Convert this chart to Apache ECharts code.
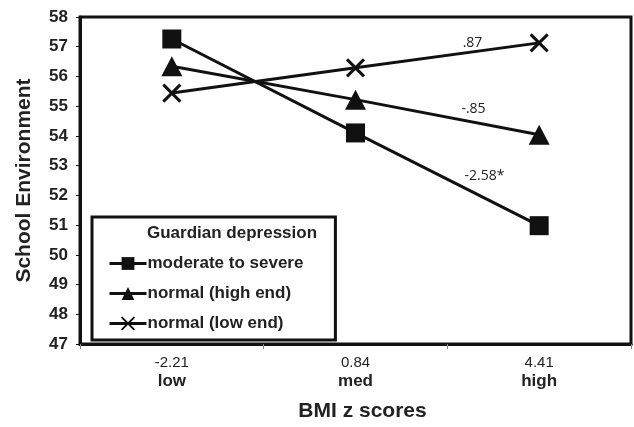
<!DOCTYPE html>
<html><head><meta charset="utf-8">
<script src="https://cdn.jsdelivr.net/npm/echarts@6/dist/echarts.min.js"></script>
<style>html,body{margin:0;padding:0;background:#fff}#c{width:634px;height:427px}</style>
</head><body><div id="c"></div>
<script>
var categories = ['low', 'med', 'high'];
var zScores = ['-2.21', '0.84', '4.41'];
var seriesNames = ['moderate to severe', 'normal (high end)', 'normal (low end)'];
var moderateSevere = [57.26, 54.10, 50.98];
var normalHigh = [56.34, 55.22, 54.04];
var normalLow = [55.44, 56.29, 57.13];
var slopeLabels = ['-2.58*', '-.85', '.87'];
var yTicks = [47, 48, 49, 50, 51, 52, 53, 54, 55, 56, 57, 58];

var INK = '#111';
var crossPath = 'path://M0,0L10,10M0,10L10,0';

function slopeMark(text, yVal, offset) {
  return {
    silent: true,
    symbol: 'circle', symbolSize: 0,
    itemStyle: {color: 'transparent'},
    data: [{
      coord: [1, yVal],
      label: {show: true, position: 'inside', formatter: text, offset: offset,
        color: '#222', fontSize: 14, fontFamily: 'Open Sans'}
    }]
  };
}

var chart = echarts.init(document.getElementById('c'));
chart.setOption({
  animation: false,
  backgroundColor: '#fff',
  grid: {left: 80, right: 3, top: 17, bottom: 81, show: true, borderColor: INK, borderWidth: 3, backgroundColor: 'transparent'},
  xAxis: {
    type: 'category', data: categories, boundaryGap: true,
    axisLine: {lineStyle: {color: INK, width: 3}},
    axisTick: {show: true, length: 5, lineStyle: {color: '#888', width: 1}},
    axisLabel: {
      margin: 10,
      formatter: function (v, i) { return '{num|' + zScores[i] + '}\n{cat|' + v + '}'; },
      rich: {
        num: {fontFamily: 'Liberation Sans', fontSize: 15, color: '#222', lineHeight: 18},
        cat: {fontFamily: 'Liberation Sans', fontSize: 17, fontWeight: 'bold', color: '#222', lineHeight: 19}
      }
    },
    name: 'BMI z scores', nameLocation: 'middle', nameGap: 57,
    nameTextStyle: {fontFamily: 'Liberation Sans', fontSize: 21, fontWeight: 'bold', color: '#222', padding: [0, 0, 0, 14]}
  },
  yAxis: {
    type: 'value', min: yTicks[0], max: yTicks[yTicks.length - 1], interval: 1,
    axisLine: {show: true, lineStyle: {color: INK, width: 3}},
    axisTick: {show: true, length: 4, lineStyle: {color: INK, width: 1}},
    splitLine: {show: false},
    axisLabel: {margin: 12, fontFamily: 'Liberation Sans', fontSize: 17, fontWeight: 'bold', color: '#222'},
    name: 'School Environment', nameLocation: 'middle', nameGap: 45,
    nameTextStyle: {fontFamily: 'Liberation Sans', fontSize: 21, fontWeight: 'bold', color: '#222'}
  },
  legend: {
    orient: 'vertical', left: 92, top: 217,
    padding: [38, 32, 8, 16], itemGap: 13, itemWidth: 37, itemHeight: 16,
    backgroundColor: '#fff', borderColor: INK, borderWidth: 3, borderRadius: 0,
    lineStyle: {width: 3, color: INK},
    textStyle: {fontFamily: 'Liberation Sans', fontSize: 17, fontWeight: 'bold', color: '#222', padding: [0, 0, 0, -4]},
    data: seriesNames
  },
  graphic: [{
    type: 'text', left: 147, top: 225, z: 100,
    style: {text: 'Guardian depression', fontFamily: 'Liberation Sans', fontSize: 17, fontWeight: 'bold', fill: '#222'}
  }],
  series: [
    {
      name: seriesNames[0], type: 'line', data: moderateSevere,
      symbol: 'rect', symbolSize: 19,
      lineStyle: {color: INK, width: 3}, itemStyle: {color: INK},
      markPoint: slopeMark(slopeLabels[0], moderateSevere[1], [129, 43])
    },
    {
      name: seriesNames[1], type: 'line', data: normalHigh,
      symbol: 'triangle', symbolSize: [21, 20],
      lineStyle: {color: INK, width: 3}, itemStyle: {color: INK},
      markPoint: slopeMark(slopeLabels[1], normalHigh[1], [118, 9])
    },
    {
      name: seriesNames[2], type: 'line', data: normalLow,
      symbol: crossPath, symbolSize: 17,
      lineStyle: {color: INK, width: 3}, itemStyle: {color: INK, borderColor: INK, borderWidth: 3},
      markPoint: slopeMark(slopeLabels[2], normalLow[1], [117, -25])
    }
  ]
});
</script></body></html>
